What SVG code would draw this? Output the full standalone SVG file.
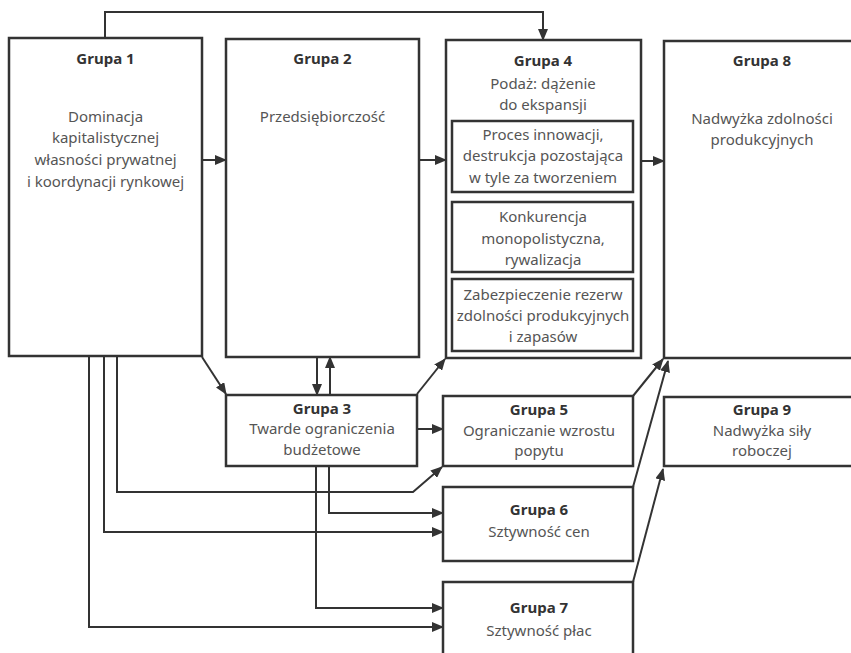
<svg xmlns="http://www.w3.org/2000/svg" width="851" height="653" viewBox="0 0 851 653">
<defs>
<marker id="ah" markerWidth="12" markerHeight="10" refX="11" refY="5" orient="auto" markerUnits="userSpaceOnUse">
<path d="M0,0 L12,5 L0,10 Z" fill="#333"/>
</marker>
<style>
.box{fill:#fff;stroke:#333;stroke-width:2.5}
.ibox{fill:none;stroke:#333;stroke-width:2.5}
.t{font-family:"Noto Sans","Open Sans",sans-serif;font-size:15px;font-weight:bold;fill:#333;text-anchor:middle}
.b{font-family:"Noto Sans","Open Sans",sans-serif;font-size:15px;fill:#555;text-anchor:middle}
.c{fill:none;stroke:#333;stroke-width:2;marker-end:url(#ah)}
.l{fill:none;stroke:#333;stroke-width:2}
</style>
</defs>
<rect width="851" height="653" fill="#fff"/>
<g id="connectors">
<path class="c" d="M105,38 V12 H543 V40"/>
<path class="c" d="M202,160 H226"/>
<path class="c" d="M419,160 H446"/>
<path class="c" d="M641,161 H664"/>
<path class="c" d="M202,357 L226,394"/>
<path class="c" d="M317,357 V395"/>
<path class="c" d="M330,395 V357"/>
<path class="c" d="M417,394 L445,359"/>
<path class="c" d="M417,429 H443"/>
<path class="c" d="M117,356 V492 H413 L442,467"/>
<path class="c" d="M104,356 V532 H443"/>
<path class="c" d="M89,356 V627 H443"/>
<path class="c" d="M329,466 V513 H443"/>
<path class="c" d="M316,466 V608 H443"/>
<path class="c" d="M633,396 L663,359"/>
<path class="c" d="M633,487 L668,361"/>
<path class="c" d="M633,582 L663,469"/>
</g>
<g id="grupa1">
<rect class="box" x="9" y="38" width="193" height="318"/>
<text class="t" x="105.5" y="64">Grupa 1</text>
<text class="b" x="105.5" y="122">Dominacja</text>
<text class="b" x="105.5" y="143">kapitalistycznej</text>
<text class="b" x="105.5" y="165">własności prywatnej</text>
<text class="b" x="105.5" y="187">i koordynacji rynkowej</text>
</g>
<g id="grupa2">
<rect class="box" x="226" y="39" width="193" height="318"/>
<text class="t" x="322.5" y="64">Grupa 2</text>
<text class="b" x="322.5" y="122">Przedsiębiorczość</text>
</g>
<g id="grupa4">
<rect class="box" x="446" y="40" width="195" height="318"/>
<text class="t" x="543" y="66">Grupa 4</text>
<text class="b" x="543" y="89">Podaż: dążenie</text>
<text class="b" x="543" y="110">do ekspansji</text>
<rect class="ibox" x="452" y="121" width="181" height="71"/>
<text class="b" x="543" y="140">Proces innowacji,</text>
<text class="b" x="543" y="161">destrukcja pozostająca</text>
<text class="b" x="543" y="183">w tyle za tworzeniem</text>
<rect class="ibox" x="452" y="202" width="181" height="70"/>
<text class="b" x="543" y="222">Konkurencja</text>
<text class="b" x="543" y="244">monopolistyczna,</text>
<text class="b" x="543" y="265">rywalizacja</text>
<rect class="ibox" x="452" y="279" width="181" height="72"/>
<text class="b" x="543" y="300">Zabezpieczenie rezerw</text>
<text class="b" x="543" y="321">zdolności produkcyjnych</text>
<text class="b" x="543" y="342">i zapasów</text>
</g>
<g id="grupa8">
<rect class="box" x="664" y="41" width="200" height="317"/>
<text class="t" x="762" y="66">Grupa 8</text>
<text class="b" x="762" y="124">Nadwyżka zdolności</text>
<text class="b" x="762" y="145">produkcyjnych</text>
</g>
<g id="grupa3">
<rect class="box" x="226" y="395" width="191" height="71"/>
<text class="t" x="322" y="414">Grupa 3</text>
<text class="b" x="322" y="434">Twarde ograniczenia</text>
<text class="b" x="322" y="455">budżetowe</text>
</g>
<g id="grupa5">
<rect class="box" x="443" y="396" width="190" height="70"/>
<text class="t" x="539" y="415">Grupa 5</text>
<text class="b" x="539" y="436">Ograniczanie wzrostu</text>
<text class="b" x="539" y="456">popytu</text>
</g>
<g id="grupa9">
<rect class="box" x="664" y="397" width="200" height="69"/>
<text class="t" x="762" y="415">Grupa 9</text>
<text class="b" x="762" y="436">Nadwyżka siły</text>
<text class="b" x="762" y="456">roboczej</text>
</g>
<g id="grupa6">
<rect class="box" x="443" y="487" width="190" height="74"/>
<text class="t" x="539" y="515">Grupa 6</text>
<text class="b" x="539" y="537">Sztywność cen</text>
</g>
<g id="grupa7">
<rect class="box" x="443" y="582" width="190" height="80"/>
<text class="t" x="539" y="613">Grupa 7</text>
<text class="b" x="539" y="636">Sztywność płac</text>
</g>
</svg>
